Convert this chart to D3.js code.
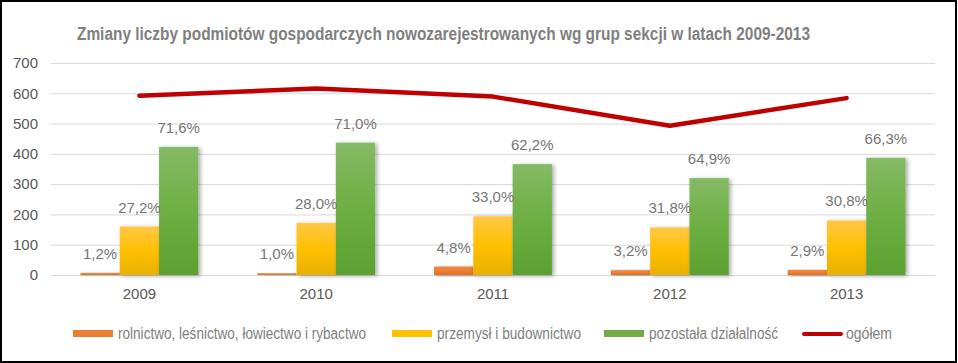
<!DOCTYPE html>
<html>
<head>
<meta charset="utf-8">
<script src="https://cdn.jsdelivr.net/npm/d3@7/dist/d3.min.js"></script>
<style>
  body { margin: 0; background: #fff; }
  svg { display: block; font-family: "Liberation Sans", Arial, sans-serif; }
</style>
</head>
<body>
<svg id="chart" width="958" height="363"></svg>
<script>
// data
const years = ["2009", "2010", "2011", "2012", "2013"]
const series = ["rolnictwo, leśnictwo, łowiectwo i rybactwo", "przemysł i budownictwo", "pozostała działalność"]
const rolnictwo = [7, 6, 28, 16, 17]
const przemysl = [160, 172, 194, 157, 180]
const pozostala = [423, 437, 366, 320, 387]
const ogolem = [592, 616, 589, 493, 584]
const rolnictwo_labels = ["1,2%", "1,0%", "4,8%", "3,2%", "2,9%"]
const przemysl_labels = ["27,2%", "28,0%", "33,0%", "31,8%", "30,8%"]
const pozostala_labels = ["71,6%", "71,0%", "62,2%", "64,9%", "66,3%"]
const y_ticks = [0, 100, 200, 300, 400, 500, 600, 700]
const title = "Zmiany liczby podmiotów gospodarczych nowozarejestrowanych wg grup sekcji w latach 2009-2013"
const line_name = "ogółem"

const bar_values = [rolnictwo, przemysl, pozostala]
const bar_labels = [rolnictwo_labels, przemysl_labels, pozostala_labels]

const narrow = '"Liberation Sans Narrow", "Arial Narrow", "Liberation Sans", Arial, sans-serif'

var svg = d3.select("#chart")

// border
svg.append("rect")
  .attr("x", 1).attr("y", 1)
  .attr("width", 955).attr("height", 361)
  .attr("fill", "#fff")
  .attr("stroke", "#000")
  .attr("stroke-width", 2)

// gradients + shadow
var defs = svg.append("defs")
function gradient(id, stops) {
  var g = defs.append("linearGradient").attr("id", id)
    .attr("x1", 0).attr("y1", 0).attr("x2", 0).attr("y2", 1)
  stops.forEach(function(s) {
    g.append("stop").attr("offset", s[0]).attr("stop-color", s[1])
  })
}
gradient("g0", [[0, "#F08A45"], [0.5, "#ED7D31"], [1, "#DF7025"]])
gradient("g1", [[0, "#FFC746"], [0.5, "#FFC000"], [1, "#E8B000"]])
gradient("g2", [[0, "#85BA66"], [0.5, "#6DAF42"], [1, "#5DA031"]])
var colours = ["url(#g0)", "url(#g1)", "url(#g2)"]
var legend_colours = ["#ED7D31", "#FFC000", "#70AD47"]

defs.append("filter").attr("id", "shadow")
  .attr("x", "-20%").attr("y", "-10%").attr("width", "150%").attr("height", "130%")
  .append("feDropShadow")
  .attr("dx", 2).attr("dy", 1).attr("stdDeviation", 2)
  .attr("flood-color", "#000").attr("flood-opacity", 0.35)

// plot area
var plotLeft = 51, plotRight = 935, plotTop = 63, plotBottom = 275

var x0 = d3.scaleBand().domain(years).range([plotLeft, plotRight]).padding(0)
var barW = x0.bandwidth() / 4.5
var x1 = d3.scaleBand().domain(d3.range(series.length))
  .range([barW * 0.75, barW * 3.75]).padding(0)
var y = d3.scaleLinear().domain([0, 700]).range([plotBottom, plotTop])

// grid
var grid = svg.append("g")
  .attr("transform", "translate(" + plotLeft + ",0)")
  .call(d3.axisLeft(y).tickValues(y_ticks).tickSize(-(plotRight - plotLeft)).tickFormat(""))
grid.select(".domain").remove()
grid.selectAll("line").attr("stroke", "#d9d9d9").attr("stroke-width", 1)

// y axis labels
var yAxis = svg.append("g")
  .attr("transform", "translate(38,0)")
  .call(d3.axisLeft(y).tickValues(y_ticks).tickSize(0).tickPadding(0))
yAxis.select(".domain").remove()
yAxis.selectAll("text")
  .attr("font-size", 15).attr("fill", "#595959")
  .attr("font-family", '"Liberation Sans", Arial, sans-serif')

// x axis labels
var xAxis = svg.append("g")
  .attr("transform", "translate(0," + plotBottom + ")")
  .call(d3.axisBottom(x0).tickSize(0).tickPadding(13))
xAxis.select(".domain").attr("stroke", "#d9d9d9")
xAxis.selectAll("text")
  .attr("font-size", 15).attr("fill", "#595959")
  .attr("font-family", '"Liberation Sans", Arial, sans-serif')

// bars
var groups = svg.append("g").selectAll("g")
  .data(years)
  .enter().append("g")
  .attr("transform", function(d) { return "translate(" + x0(d) + ",0)" })

groups.each(function(yr, i) {
  var g = d3.select(this)
  for (let s = 0; s < series.length; s++) {
    g.append("rect")
      .attr("x", x1(s))
      .attr("y", y(bar_values[s][i]))
      .attr("width", x1.bandwidth())
      .attr("height", y(0) - y(bar_values[s][i]))
      .attr("fill", colours[s])
      .attr("filter", "url(#shadow)")
  }
  for (let s = 0; s < series.length; s++) {
    g.append("text")
      .attr("x", x1(s) + x1.bandwidth() / 2)
      .attr("y", y(bar_values[s][i]) - 14)
      .attr("text-anchor", "middle")
      .attr("font-size", 15)
      .attr("fill", "#767676")
      .text(bar_labels[s][i])
  }
})

// total line
var line = d3.line()
  .x(function(d, i) { return x0(years[i]) + x0.bandwidth() / 2 })
  .y(function(d) { return y(d) })

svg.append("path")
  .datum(ogolem)
  .attr("fill", "none")
  .attr("stroke", "#C00000")
  .attr("stroke-width", 4.5)
  .attr("stroke-linecap", "round")
  .attr("stroke-linejoin", "round")
  .attr("d", line)

// title
svg.append("text")
  .attr("x", 77).attr("y", 40)
  .attr("font-family", narrow)
  .attr("font-weight", "bold")
  .attr("font-size", 18)
  .attr("fill", "#7f7f7f")
  .attr("textLength", 733)
  .attr("lengthAdjust", "spacingAndGlyphs")
  .text(title)

// legend
var legend_items = [
  { name: series[0], x: 73, text_w: 248 },
  { name: series[1], x: 392, text_w: 144 },
  { name: series[2], x: 604, text_w: 129 },
  { name: line_name, x: 802, text_w: 46 }
]
var legend = svg.append("g")
legend_items.forEach(function(d, i) {
  if (i < 3) {
    legend.append("rect")
      .attr("x", d.x).attr("y", 330)
      .attr("width", 40).attr("height", 7)
      .attr("fill", legend_colours[i])
  } else {
    legend.append("line")
      .attr("x1", d.x + 2).attr("x2", d.x + 39)
      .attr("y1", 334).attr("y2", 334)
      .attr("stroke", "#C00000").attr("stroke-width", 4)
      .attr("stroke-linecap", "round")
  }
  legend.append("text")
    .attr("x", d.x + (i < 3 ? 45 : 44)).attr("y", 339)
    .attr("font-family", narrow)
    .attr("font-size", 16)
    .attr("fill", "#7f7f7f")
    .attr("textLength", d.text_w)
    .attr("lengthAdjust", "spacingAndGlyphs")
    .text(d.name)
})
</script>
</body>
</html>
